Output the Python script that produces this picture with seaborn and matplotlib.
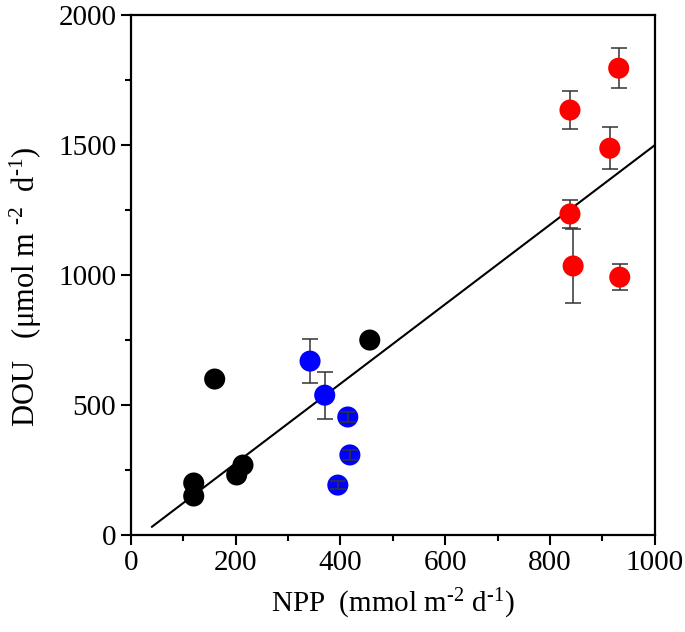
import numpy as np
import pandas as pd
import matplotlib
matplotlib.use("Agg")
import matplotlib.pyplot as plt
import seaborn as sns
from matplotlib.ticker import MultipleLocator

# data
npp_black = [120, 120, 160, 202, 214, 456]
dou_black = [150, 200, 600, 231, 269, 750]

npp_blue = [342, 370, 414, 418, 395]
dou_blue = [669, 538, 454, 308, 192]
err_blue = [85, 90, 20, 20, 15]

npp_red = [838, 931, 914, 838, 844, 933]
dou_red = [1635, 1796, 1488, 1235, 1035, 992]
err_red = [72, 77, 80, 55, 143, 50]

# regression line
fit_x = [40, 1000]
fit_slope = 1.53
fit_intercept = -30

sns.set_style("ticks")
plt.rcParams['font.family'] = ['Liberation Serif', 'DejaVu Serif']
plt.rcParams['mathtext.fontset'] = 'custom'
plt.rcParams['mathtext.rm'] = 'Liberation Serif'
plt.rcParams['mathtext.default'] = 'regular'
plt.rcParams['text.color'] = 'black'
plt.rcParams['axes.labelcolor'] = 'black'

df = pd.DataFrame({
    'NPP': npp_black + npp_blue + npp_red,
    'DOU': dou_black + dou_blue + dou_red,
    'group': ['a'] * len(npp_black) + ['b'] * len(npp_blue) + ['c'] * len(npp_red),
})

fig = plt.figure(figsize=(6.85, 6.32), dpi=100)
ax = fig.add_axes([0.191, 0.1535, 0.765, 0.8225])

# line
fit_y = [fit_slope * x + fit_intercept for x in fit_x]
sns.lineplot(x=fit_x, y=fit_y, color='black', lw=1.5, ax=ax, zorder=1)

# error bars (large ones behind markers, small ones on top like the original)
all_x = npp_blue + npp_red
all_y = dou_blue + dou_red
all_e = err_blue + err_red
for x, y, e in zip(all_x, all_y, all_e):
    z = 4 if e < 40 else 2
    ax.errorbar(x, y, yerr=e, fmt='none', ecolor='#333333', elinewidth=1.1,
                capsize=5.5, capthick=1.1, zorder=z)

sns.scatterplot(data=df, x='NPP', y='DOU', hue='group',
                palette={'a': 'black', 'b': '#0000ff', 'c': '#ff0000'},
                s=230, edgecolor='none', legend=False, ax=ax, zorder=3)

ax.set_xlim(0, 1000)
ax.set_ylim(0, 2000)
ax.xaxis.set_major_locator(MultipleLocator(200))
ax.xaxis.set_minor_locator(MultipleLocator(100))
ax.yaxis.set_major_locator(MultipleLocator(500))
ax.yaxis.set_minor_locator(MultipleLocator(250))

for s in ax.spines.values():
    s.set_linewidth(1.6)
    s.set_color('black')
ax.tick_params(which='major', direction='out', length=7, width=1.5,
               labelsize=21, top=False, right=False, colors='black')
ax.tick_params(which='minor', direction='out', length=4, width=1.5,
               top=False, right=False, colors='black')

ax.set_xlabel('NPP  (mmol m$^{\u20102}$ d$^{\u20101}$)', fontsize=21, labelpad=8)
ax.set_ylabel('DOU   (μmol m $^{\u20102}$  d$^{\u20101}$)', fontsize=22)
ax.yaxis.set_label_coords(-0.166, 0.477)

fig.savefig('out.png', dpi=100)
